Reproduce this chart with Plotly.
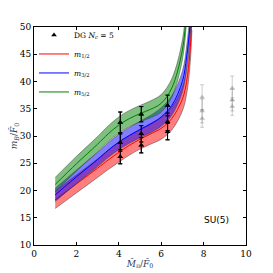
import plotly.graph_objects as go

# ---- data ----
band_x = [1.0, 2.0, 3.0, 3.5, 4.0, 4.5, 5.0, 5.5, 6.0, 6.5, 7.0, 7.2, 7.35, 7.45]
red_center = [18.3, 21.2, 24.1, 25.6, 27.0, 28.3, 29.4, 30.4, 31.4, 33.2, 36.8, 40.0, 45.0, 52.0]
red_err = [1.6, 1.65, 1.7, 1.75, 1.8, 1.8, 1.8, 1.9, 2.0, 2.1, 2.2, 2.3, 2.5, 2.6]
blue_center = [19.2, 22.5, 25.7, 27.4, 28.9, 30.1, 31.2, 32.2, 33.5, 35.6, 40.0, 44.5, 50.0, 56.0]
blue_err = [1.2, 1.25, 1.3, 1.35, 1.4, 1.45, 1.5, 1.6, 1.7, 1.8, 1.9, 2.0, 2.2, 2.3]
green_center = [21.1, 24.9, 28.5, 30.4, 32.0, 33.2, 34.1, 34.9, 36.0, 38.8, 45.8, 53.0, 60.0, 66.0]
green_err = [1.3, 1.35, 1.4, 1.45, 1.5, 1.5, 1.5, 1.55, 1.6, 1.7, 1.8, 2.0, 2.2, 2.3]

dg_x = [4.07, 4.07, 4.07, 5.06, 5.06, 5.06, 6.30, 6.30, 6.30]
dg_y = [32.5, 28.8, 26.2, 34.0, 30.4, 28.3, 35.6, 32.6, 30.8]
dg_err = [1.9, 1.6, 1.3, 1.4, 1.5, 1.4, 1.9, 1.6, 1.5]

gray_x = [7.93, 7.93, 7.93, 9.35, 9.35, 9.35]
gray_y = [37.1, 34.6, 33.2, 38.75, 36.6, 35.4]
gray_err = [2.3, 2.2, 1.6, 2.25, 2.0, 1.6]

x_ticks = [0, 2, 4, 6, 8, 10]
y_ticks = [10, 15, 20, 25, 30, 35, 40, 45, 50]

bands = [
    ("<i>m</i><sub>1/2</sub>", red_center, red_err, "rgb(255,0,0)", "rgba(255,0,0,0.5)"),
    ("<i>m</i><sub>3/2</sub>", blue_center, blue_err, "rgb(0,0,255)", "rgba(0,0,255,0.5)"),
    ("<i>m</i><sub>5/2</sub>", green_center, green_err, "rgb(0,128,0)", "rgba(0,128,0,0.5)"),
]

fig = go.Figure()

fig.add_trace(go.Scatter(
    x=dg_x, y=dg_y, mode="markers", name="DG <i>N<sub>c</sub></i> = 5",
    marker=dict(symbol="triangle-up", size=5, color="black"),
    error_y=dict(type="data", array=dg_err, color="black", thickness=1, width=2),
))

for name, c, e, lc, fc in bands:
    lo = [a - b for a, b in zip(c, e)]
    hi = [a + b for a, b in zip(c, e)]
    fig.add_trace(go.Scatter(x=band_x, y=lo, mode="lines", line=dict(color="rgba(60,60,60,0.8)", width=0.6, shape="spline"),
                             showlegend=False, hoverinfo="skip"))
    fig.add_trace(go.Scatter(x=band_x, y=hi, mode="lines", fill="tonexty", fillcolor=fc,
                             line=dict(color="rgba(60,60,60,0.8)", width=0.6, shape="spline"),
                             showlegend=False, hoverinfo="skip"))
    fig.add_trace(go.Scatter(x=band_x, y=c, mode="lines", name=name,
                             line=dict(color=lc, width=1, shape="spline")))

fig.add_trace(go.Scatter(
    x=dg_x, y=dg_y, mode="markers", showlegend=False,
    marker=dict(symbol="triangle-up", size=5, color="black"),
    error_y=dict(type="data", array=dg_err, color="black", thickness=1, width=2),
))

fig.add_trace(go.Scatter(
    x=gray_x, y=gray_y, mode="markers", showlegend=False,
    marker=dict(symbol="triangle-up", size=5, color="rgba(128,128,128,0.5)"),
    error_y=dict(type="data", array=gray_err, color="rgba(128,128,128,0.4)", thickness=1, width=2),
))

fig.add_annotation(x=8.6, y=14.6, text="SU(5)", showarrow=False,
                   font=dict(family="DejaVu Sans", size=9, color="black"))

axis_common = dict(showgrid=False, zeroline=False, showline=True, linecolor="black", linewidth=1,
                   mirror="ticks", ticks="inside", ticklen=3, tickcolor="black", automargin=False,
                   tickfont=dict(family="DejaVu Serif", size=9, color="black"))

fig.update_layout(
    width=265, height=265,
    margin=dict(l=26, r=27, t=19, b=28),
    paper_bgcolor="white", plot_bgcolor="white",
    showlegend=True,
    legend=dict(x=0.0, y=1.03, xanchor="left", yanchor="top", bgcolor="rgba(0,0,0,0)",
                font=dict(family="DejaVu Serif", size=7.5, color="black"),
                itemwidth=30, tracegroupgap=0, traceorder="normal"),
    xaxis=dict(range=[0, 10], tickvals=x_ticks, title=dict(text="<i>M̂</i><sub>π</sub>/<i>F̂</i><sub>0</sub>",
               font=dict(family="DejaVu Serif", size=9), standoff=2), **axis_common),
    yaxis=dict(range=[10, 50], tickvals=y_ticks, title=dict(text="<i>m</i><sub><i>B</i></sub>/<i>F̂</i><sub>0</sub>",
               font=dict(family="DejaVu Serif", size=9), standoff=0), **axis_common),
)

fig.write_html("out.html")
